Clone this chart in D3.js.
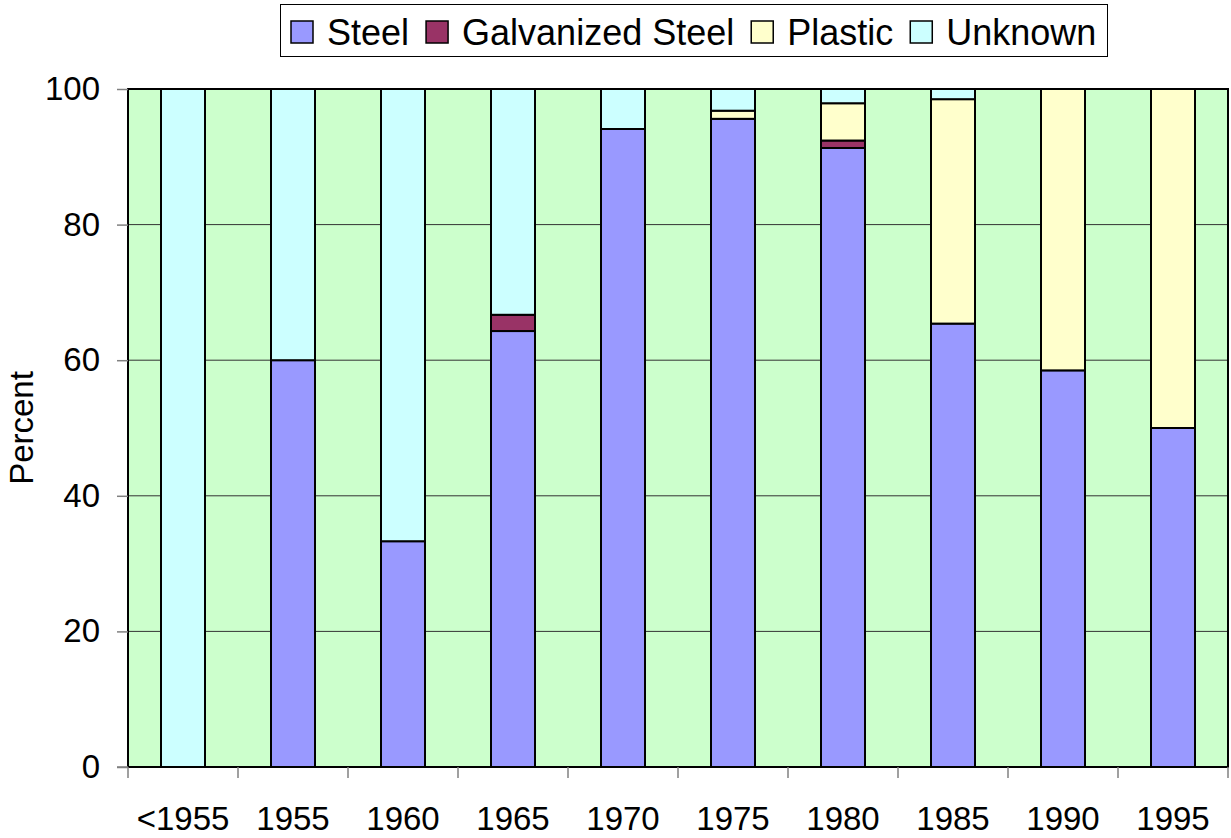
<!DOCTYPE html>
<html>
<head>
<meta charset="utf-8">
<script src="https://cdn.jsdelivr.net/npm/d3@7"></script>
<style>
  body { margin: 0; background: #fff; }
  svg { display: block; font-family: "Liberation Sans", Arial, sans-serif; }
</style>
</head>
<body>
<svg id="chart" width="1231" height="838"></svg>
<script>
// categories and stacked series (percent)
var categories = ["<1955", "1955", "1960", "1965", "1970", "1975", "1980", "1985", "1990", "1995"];
var steel      = [0,   60, 33.3, 64.3, 94.1, 95.6, 91.3, 65.4, 58.5, 50];
var galvanized = [0,    0,    0,  2.4,    0,    0,  1.1,    0,    0,  0];
var plastic    = [0,    0,    0,    0,    0,  1.2,  5.5, 33.1, 41.5, 50];
var unknown    = [100, 40, 66.7, 33.3,  5.9,  3.2,  2.1,  1.5,    0,  0];
var yTicks = [0, 20, 40, 60, 80, 100];

var seriesNames = ["Steel", "Galvanized Steel", "Plastic", "Unknown"];
var seriesColors = ["#9999ff", "#993366", "#ffffcc", "#ccffff"];

var rows = categories.map(function(c, i) {
    return { cat: c, "Steel": steel[i], "Galvanized Steel": galvanized[i], "Plastic": plastic[i], "Unknown": unknown[i] };
});

var svg = d3.select("#chart");
var margin = { left: 128, top: 89, right: 1228, bottom: 767 };

var x = d3.scaleBand()
    .domain(categories)
    .range([margin.left, margin.right])
    .paddingInner(0.6)
    .paddingOuter(0.3);

var y = d3.scaleLinear()
    .domain([0, 100])
    .range([margin.bottom, margin.top]);

var color = d3.scaleOrdinal().domain(seriesNames).range(seriesColors);

// plot background
svg.append("rect")
    .attr("x", margin.left)
    .attr("y", margin.top)
    .attr("width", margin.right - margin.left)
    .attr("height", margin.bottom - margin.top)
    .attr("fill", "#ccffcc");

// gridlines
svg.append("g").selectAll("line")
    .data(yTicks.slice(1, -1))
    .enter().append("line")
    .attr("x1", margin.left)
    .attr("x2", margin.right)
    .attr("y1", function(d) { return y(d); })
    .attr("y2", function(d) { return y(d); })
    .attr("stroke", "#333")
    .attr("stroke-width", 1);

// stacked bars
var stacked = d3.stack().keys(seriesNames)(rows);

svg.append("g").selectAll("g")
    .data(stacked)
    .enter().append("g")
    .attr("fill", function(d) { return color(d.key); })
    .selectAll("rect")
    .data(function(d) { return d.filter(function(p) { return p[1] - p[0] > 0; }); })
    .enter().append("rect")
    .attr("x", function(d) { return x(d.data.cat); })
    .attr("width", x.bandwidth())
    .attr("y", function(d) { return y(d[1]); })
    .attr("height", function(d) { return y(d[0]) - y(d[1]); })
    .attr("stroke", "#000")
    .attr("stroke-width", 2);

// plot border
svg.append("rect")
    .attr("x", margin.left)
    .attr("y", margin.top)
    .attr("width", margin.right - margin.left)
    .attr("height", margin.bottom - margin.top)
    .attr("fill", "none")
    .attr("stroke", "#000")
    .attr("stroke-width", 2);

// y axis
var yAxis = svg.append("g")
    .attr("transform", "translate(" + margin.left + ",0)")
    .call(d3.axisLeft(y).tickValues(yTicks).tickSize(11).tickPadding(17));
yAxis.select(".domain").remove();
yAxis.selectAll(".tick line").attr("stroke", "#808080").attr("stroke-width", 1.5);
yAxis.selectAll("text")
    .attr("font-family", "Liberation Sans, Arial, sans-serif")
    .attr("font-size", "33px")
    .attr("fill", "#000");

// x axis: ticks at category boundaries
var boundaries = categories.map(function(c) { return x(c) - x.step() * x.paddingOuter(); });
boundaries.push(margin.right);

var xAxis = svg.append("g");
xAxis.selectAll("line")
    .data(boundaries)
    .enter().append("line")
    .attr("x1", function(d) { return d; })
    .attr("x2", function(d) { return d; })
    .attr("y1", margin.bottom)
    .attr("y2", margin.bottom + 11)
    .attr("stroke", "#808080")
    .attr("stroke-width", 1.5);

xAxis.append("line")
    .attr("x1", margin.left - 11)
    .attr("x2", margin.left)
    .attr("y1", margin.bottom)
    .attr("y2", margin.bottom)
    .attr("stroke", "#808080")
    .attr("stroke-width", 1.5);

xAxis.selectAll("text")
    .data(categories)
    .enter().append("text")
    .attr("x", function(d) { return x(d) + x.bandwidth() / 2; })
    .attr("y", 830)
    .attr("text-anchor", "middle")
    .attr("font-size", "33px")
    .text(function(d) { return d; });

// y title
svg.append("text")
    .attr("transform", "translate(33,428) rotate(-90)")
    .attr("text-anchor", "middle")
    .attr("font-size", "33px")
    .text("Percent");

// legend
var legend = svg.append("g");
legend.append("rect")
    .attr("x", 280.5)
    .attr("y", 4.5)
    .attr("width", 827)
    .attr("height", 52)
    .attr("fill", "#fff")
    .attr("stroke", "#000")
    .attr("stroke-width", 1);

var lx = 291;
seriesNames.forEach(function(name) {
    legend.append("rect")
        .attr("x", lx)
        .attr("y", 21)
        .attr("width", 22)
        .attr("height", 22)
        .attr("fill", color(name))
        .attr("stroke", "#000")
        .attr("stroke-width", 1.5);
    var t = legend.append("text")
        .attr("x", lx + 36)
        .attr("y", 45)
        .attr("font-size", "36px")
        .text(name);
    lx = lx + 36 + t.node().getComputedTextLength() + 17;
});
</script>
</body>
</html>
